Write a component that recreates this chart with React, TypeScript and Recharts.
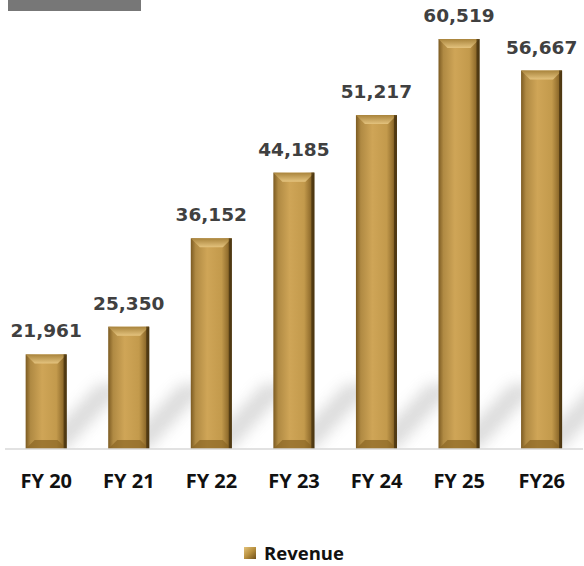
import React from 'react';
import { BarChart, Bar, XAxis, YAxis, Legend, LabelList } from 'recharts';

const years = ['FY 20', 'FY 21', 'FY 22', 'FY 23', 'FY 24', 'FY 25', 'FY26'];
const revenue = [21961, 25350, 36152, 44185, 51217, 60519, 56667];

const data = years.map((year, i) => ({ year, Revenue: revenue[i] }));

const GoldBar = (props: any) => {
  const { x, y, width, height } = props;
  if (height <= 0) return null;
  const b = Math.min(9, height / 4);
  const base = y + height;
  return (
    <g>
      <polygon
        points={`${x + width * 0.3},${base} ${x + width},${base} ${x + width + 60},${base - 65} ${x + width * 0.3 + 60},${base - 65}`}
        fill="#8c8c8c"
        opacity={0.3}
        filter="url(#shadowBlur)"
      />
      <rect x={x} y={y} width={width} height={height} fill="url(#goldBody)" />
      <polygon
        points={`${x},${y} ${x + width},${y} ${x + width - b},${y + b} ${x + b},${y + b}`}
        fill="url(#goldTop)"
      />
      <polygon
        points={`${x},${base} ${x + width},${base} ${x + width - b},${base - b} ${x + b},${base - b}`}
        fill="#8a6524"
        opacity={0.7}
      />
      <rect x={x + width - 3} y={y} width={3} height={height} fill="#4a3410" opacity={0.8} />
    </g>
  );
};

const LegendContent = () => (
  <div
    style={{
      display: 'flex',
      justifyContent: 'center',
      alignItems: 'center',
      paddingTop: 13,
      lineHeight: '20px',
      fontFamily: '"Open Sans", sans-serif',
      fontWeight: 700,
      fontSize: 18.5,
      color: '#111',
    }}
  >
    <span
      style={{
        display: 'inline-block',
        width: 12,
        height: 12,
        marginRight: 8,
        background: 'linear-gradient(135deg, #e3c27a 0%, #b8903f 50%, #6e4f1a 100%)',
      }}
    />
    Revenue
  </div>
);

export default function App() {
  return (
    <div style={{ position: 'absolute', left: 0, top: 0, width: 584, height: 566, background: '#fff' }}>
      <style>{'body{margin:0}'}</style>
      <div style={{ position: 'absolute', left: 8, top: 0, width: 133, height: 11, background: '#777' }} />
      <BarChart
        width={584}
        height={566}
        data={data}
        margin={{ top: 20, right: 1, left: 5, bottom: 0 }}
        barCategoryGap="25%"
      >
        <defs>
          <linearGradient id="goldBody" x1="0" y1="0" x2="1" y2="0">
            <stop offset="0%" stopColor="#7c5b22" />
            <stop offset="12%" stopColor="#b08a43" />
            <stop offset="40%" stopColor="#cfa557" />
            <stop offset="75%" stopColor="#c39a4c" />
            <stop offset="92%" stopColor="#8e6a2b" />
            <stop offset="100%" stopColor="#4f3810" />
          </linearGradient>
          <linearGradient id="goldTop" x1="0" y1="0" x2="0" y2="1">
            <stop offset="0%" stopColor="#a9843c" />
            <stop offset="100%" stopColor="#e4c37e" />
          </linearGradient>
          <filter id="shadowBlur" x="-50%" y="-50%" width="200%" height="200%">
            <feGaussianBlur stdDeviation="7" />
          </filter>
        </defs>
        <XAxis
          dataKey="year"
          height={81}
          axisLine={{ stroke: '#d9d9d9', strokeWidth: 1.5 }}
          tickLine={false}
          tickMargin={19}
          tick={{ fill: '#111', fontSize: 20, fontWeight: 700, fontFamily: '"Open Sans", sans-serif' }}
        />
        <YAxis hide domain={[10400, 62845]} allowDataOverflow />
        <Legend verticalAlign="bottom" height={36} content={<LegendContent />} />
        <Bar dataKey="Revenue" shape={<GoldBar />} isAnimationActive={false}>
          <LabelList
            dataKey="Revenue"
            position="top"
            offset={17}
            formatter={(v: any) => Number(v).toLocaleString('en-US')}
            style={{ fill: '#404040', fontSize: 18.5, fontWeight: 700, fontFamily: '"DejaVu Sans", sans-serif' }}
          />
        </Bar>
      </BarChart>
    </div>
  );
}
